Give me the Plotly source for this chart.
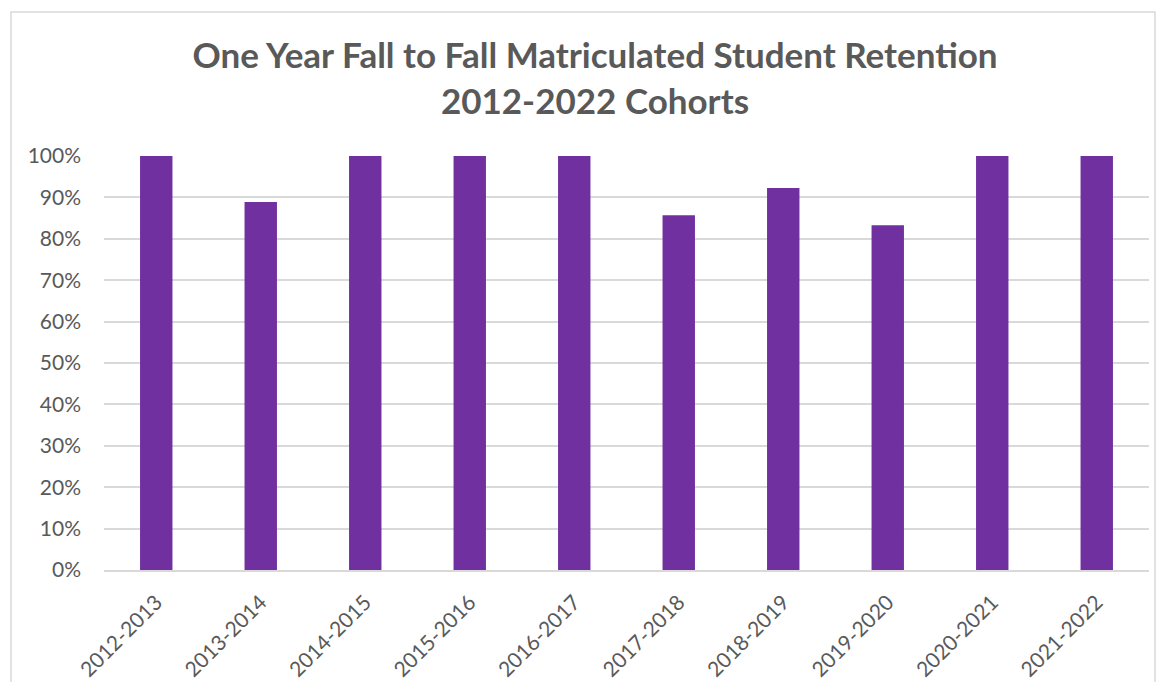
import plotly.graph_objects as go

cohorts = ["2012-2013", "2013-2014", "2014-2015", "2015-2016", "2016-2017",
           "2017-2018", "2018-2019", "2019-2020", "2020-2021", "2021-2022"]
retention = [1.0, 0.889, 1.0, 1.0, 1.0, 0.857, 0.923, 0.833, 1.0, 1.0]
y_ticks = [0, 0.1, 0.2, 0.3, 0.4, 0.5, 0.6, 0.7, 0.8, 0.9, 1.0]
y_tick_labels = ["0%", "10%", "20%", "30%", "40%", "50%", "60%", "70%", "80%", "90%", "100%"]

font_family = "Lato, 'Open Sans', sans-serif"
grey = "#595959"

W, H = 1149, 674
L, T, PW, PH = 96, 148, 1045, 414

fig = go.Figure(go.Bar(
    x=cohorts, y=retention,
    marker=dict(color="#7030A0", line=dict(width=0)),
    width=0.31,
))

fig.update_layout(
    width=W, height=H,
    paper_bgcolor="white", plot_bgcolor="white",
    margin=dict(l=L, r=W - L - PW, t=T, b=H - T - PH, pad=0, autoexpand=False),
    title=dict(
        text="<b>One Year Fall to Fall Matriculated Student Retention<br>2012-2022 Cohorts</b>",
        x=587 / W, xanchor="center", xref="container",
        y=1 - 60 / H, yanchor="middle", yref="container",
        font=dict(family=font_family, size=35, color=grey),
    ),
    font=dict(family=font_family, color=grey, size=21),
    showlegend=False,
    xaxis=dict(
        tickangle=-45, showgrid=False, showline=True, linecolor="#d9d9d9",
        linewidth=1.5, ticks="", tickfont=dict(size=21, color=grey),
        ticklabelstandoff=10, automargin=False,
    ),
    yaxis=dict(
        range=[0, 1.0], tickvals=y_ticks, ticktext=y_tick_labels,
        showgrid=True, gridcolor="#d9d9d9", gridwidth=1.5,
        zeroline=False, showline=False, ticks="", ticklen=0,
        tickfont=dict(size=21, color=grey), ticklabelstandoff=22, automargin=False,
    ),
    shapes=[dict(type="rect", xref="paper", yref="paper",
                 x0=(3 - L) / PW, x1=(1147 - L) / PW,
                 y0=(T + PH - 700) / PH, y1=(T + PH - 4) / PH,
                 line=dict(color="#d9d9d9", width=1.5), fillcolor="rgba(0,0,0,0)", layer="below")],
)

fig.write_html("out.html")
